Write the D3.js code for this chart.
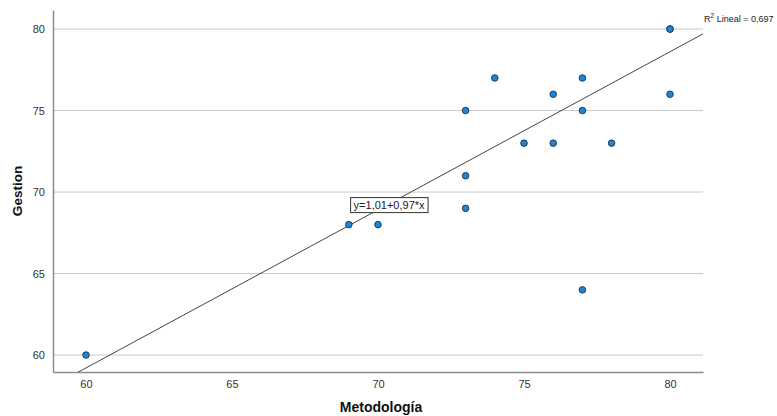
<!DOCTYPE html>
<html><head><meta charset="utf-8">
<script src="https://cdn.jsdelivr.net/npm/d3@7/dist/d3.min.js"></script>
<style>body{margin:0;background:#fff;}svg{display:block;}</style>
</head><body>
<svg id="c" width="777" height="416"></svg>
<script>
const metodologia = [60, 69, 70, 73, 73, 73, 74, 75, 76, 76, 77, 77, 77, 78, 80, 80, 80];
const gestion     = [60, 68, 68, 75, 71, 69, 77, 73, 76, 73, 77, 75, 64, 73, 80, 80, 76];
const xTicks = [60, 65, 70, 75, 80];
const yTicks = [60, 65, 70, 75, 80];
const intercept = 1.01, slope = 0.97;
const eqLabel = "y=1,01+0,97*x";
const r2Label = "0,697";

const svg = d3.select("#c");
const L = 53, R = 703, T = 10, B = 372;
const x = d3.scaleLinear().domain([58.87, 81.13]).range([L, R]);
const y = d3.scaleLinear().domain([58.96, 81.17]).range([B, T]);
const font = "Liberation Sans, Arial, sans-serif";

// grid
svg.append("g").selectAll("line").data(yTicks).join("line")
  .attr("x1", L).attr("x2", R).attr("y1", d => y(d)).attr("y2", d => y(d))
  .attr("stroke", "#c8c8c8").attr("stroke-width", 1);

// axes
const xa = svg.append("g").attr("transform", `translate(0,${B})`)
  .call(d3.axisBottom(x).tickValues(xTicks).tickSize(0).tickPadding(8).tickFormat(d3.format("d")));
const ya = svg.append("g").attr("transform", `translate(${L},0)`)
  .call(d3.axisLeft(y).tickValues(yTicks).tickSize(0).tickPadding(8).tickFormat(d3.format("d")));
[xa, ya].forEach(a => {
  a.select(".domain").attr("stroke", "#8c8c8c").attr("stroke-width", 1.5);
  a.selectAll("text").attr("font-family", font).attr("font-size", 11).attr("fill", "#333");
});

// regression line (clipped)
svg.append("clipPath").attr("id", "clip").append("rect")
  .attr("x", L).attr("y", T).attr("width", R - L).attr("height", B - T);
const xs = x.domain();
svg.append("line").attr("clip-path", "url(#clip)")
  .attr("x1", x(xs[0])).attr("y1", y(intercept + slope * xs[0]))
  .attr("x2", x(xs[1])).attr("y2", y(intercept + slope * xs[1]))
  .attr("stroke", "#444").attr("stroke-width", 1);

// points
svg.append("g").selectAll("circle").data(metodologia.map((m, i) => [m, gestion[i]])).join("circle")
  .attr("cx", d => x(d[0])).attr("cy", d => y(d[1])).attr("r", 3.3)
  .attr("fill", "#1f84d6").attr("stroke", "#1a3550").attr("stroke-width", 0.9);

// equation box
const eqX = 70.38, eqY = 69.2;
const eg = svg.append("g");
const et = eg.append("text").attr("x", x(eqX)).attr("y", y(eqY) + 4)
  .attr("text-anchor", "middle").attr("font-family", font).attr("font-size", 11).attr("fill", "#222").text(eqLabel);
const bb = et.node().getBBox();
eg.insert("rect", "text").attr("x", bb.x - 3).attr("y", bb.y - 1.5).attr("width", bb.width + 6).attr("height", bb.height + 3)
  .attr("fill", "#fff").attr("stroke", "#333").attr("stroke-width", 1);

// R2 label
const rt = svg.append("text").attr("x", R + 1).attr("y", 22).attr("font-family", font).attr("font-size", 9).attr("fill", "#222");
rt.append("tspan").text("R");
rt.append("tspan").attr("dy", -4).attr("font-size", 6.5).text("2");
rt.append("tspan").attr("dy", 4).text(" Lineal = " + r2Label);

// axis titles
svg.append("text").attr("x", (L + R) / 2 + 3).attr("y", 412).attr("text-anchor", "middle")
  .attr("font-family", font).attr("font-size", 14).attr("font-weight", "bold").attr("fill", "#111").text("Metodología");
svg.append("text").attr("transform", `translate(22,${(T + B) / 2}) rotate(-90)`).attr("text-anchor", "middle")
  .attr("font-family", font).attr("font-size", 13.5).attr("font-weight", "bold").attr("fill", "#111").text("Gestion");
</script>
</body></html>
